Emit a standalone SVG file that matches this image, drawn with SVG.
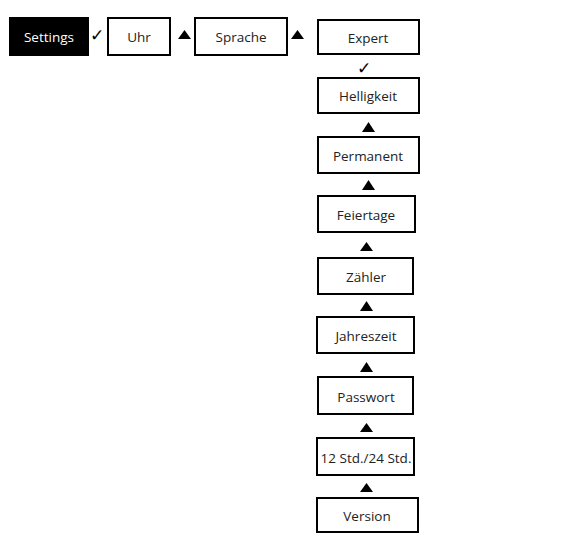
<svg xmlns="http://www.w3.org/2000/svg" width="578" height="534" viewBox="0 0 578 534">
<style>
.b{fill:#fff;stroke:#000;stroke-width:2}
.t{font-family:"Open Sans","Noto Sans",sans-serif;font-size:13.5px;fill:#222;text-anchor:middle}
.w{fill:#fff}
.tri{fill:#000}
.ck{font-family:"DejaVu Sans",sans-serif;font-size:17px;font-weight:bold;fill:#000;text-anchor:middle}
</style>
<rect width="578" height="534" fill="#fff"/>
<g id="settings"><rect x="9" y="17" width="80" height="39" fill="#000"/><text class="t w" x="49" y="42">Settings</text></g>
<g id="uhr"><rect class="b" x="108" y="18" width="62" height="37"/><text class="t" x="139" y="42">Uhr</text></g>
<g id="sprache"><rect class="b" x="195" y="18" width="92" height="37"/><text class="t" x="241" y="42">Sprache</text></g>
<g id="expert"><rect class="b" x="318" y="20" width="101" height="34"/><text class="t" x="368" y="43">Expert</text></g>
<g id="helligkeit"><rect class="b" x="318" y="78" width="101" height="35"/><text class="t" x="368" y="101">Helligkeit</text></g>
<g id="permanent"><rect class="b" x="318" y="137" width="101" height="36"/><text class="t" x="368" y="161">Permanent</text></g>
<g id="feiertage"><rect class="b" x="318" y="196" width="97" height="36"/><text class="t" x="366" y="220">Feiertage</text></g>
<g id="zaehler"><rect class="b" x="318" y="258" width="95" height="36"/><text class="t" x="366" y="282">Zähler</text></g>
<g id="jahreszeit"><rect class="b" x="317" y="317" width="97" height="36"/><text class="t" x="366" y="341">Jahreszeit</text></g>
<g id="passwort"><rect class="b" x="318" y="377" width="95" height="37"/><text class="t" x="366" y="402">Passwort</text></g>
<g id="std"><rect class="b" x="317" y="438" width="97" height="37"/><text class="t" x="366" y="463">12 Std./24 Std.</text></g>
<g id="version"><rect class="b" x="317" y="498" width="101" height="34"/><text class="t" x="367" y="521">Version</text></g>
<g id="connectors">
<text class="ck" x="97" y="41">✓</text>
<polygon class="tri" points="178,39 191,39 184.5,30"/>
<polygon class="tri" points="291,39 304,39 297.5,30"/>
<text class="ck" x="364" y="74">✓</text>
<polygon class="tri" points="362,132 375,132 368.5,122"/>
<polygon class="tri" points="362,190 375,190 368.5,180"/>
<polygon class="tri" points="360,251 373,251 366.5,242"/>
<polygon class="tri" points="360,311 373,311 366.5,301"/>
<polygon class="tri" points="360,372 373,372 366.5,362"/>
<polygon class="tri" points="360,432 373,432 366.5,423"/>
<polygon class="tri" points="360,492 373,492 366.5,483"/>
</g>
</svg>
